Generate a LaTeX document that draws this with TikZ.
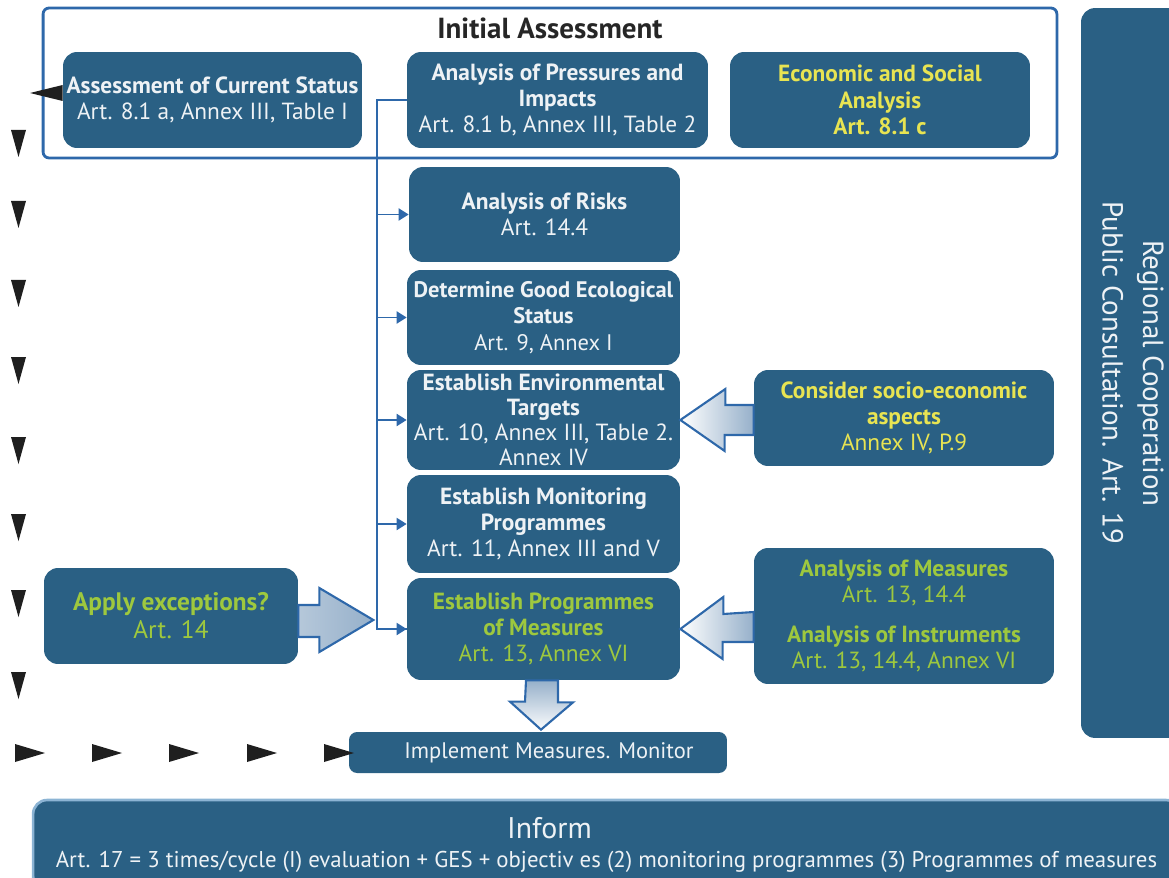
\documentclass[tikz,border=0pt]{standalone}
\usepackage{fontspec}
\setmainfont{PT Sans}
\usetikzlibrary{arrows.meta,calc,positioning}
\definecolor{boxblue}{RGB}{42,96,132}
\definecolor{lineblue}{RGB}{46,104,170}
\definecolor{txtyellow}{RGB}{232,228,82}
\definecolor{txtgreen}{RGB}{158,200,62}
\definecolor{arrowgray}{RGB}{150,176,202}
\definecolor{informedge}{RGB}{140,180,212}

\begin{document}
\begin{tikzpicture}[x=0.02cm, y=-0.02cm, >={Triangle[length=0.2cm,width=0.24cm]},
  box/.style={rounded corners=0.28cm, fill=boxblue, text=white!92!boxblue, align=center,
    inner sep=0pt, font=\fontsize{13.3}{15}\selectfont},
  boxsize/.style 2 args={minimum width=#1, minimum height=#2},
  link/.style={lineblue, line width=1.1pt},
  blockarrow/.style={draw=lineblue, line width=1.2pt, line join=miter},
  marker/.style={fill=black!88}]
    \useasboundingbox (0,0) rectangle (1169,878);

    % frame of the initial assessment
    \node[draw=lineblue, line width=1.6pt, rounded corners=0.12cm, boxsize={20.28cm}{3cm}] (initial) at (550,83) {};
    \node[font=\bfseries\fontsize{16.5}{18}\selectfont, text=black!85] (initialtitle) at (550,28) {Initial Assessment};

    % boxes
    \node[box, boxsize={5.98cm}{1.92cm}] (current) at (212.5,100) {\textbf{Assessment of Current Status}\\Art. 8.1 a, Annex III, Table I};
    \node[box, boxsize={6.02cm}{1.92cm}] (pressure) at (557.5,100) {\textbf{Analysis of Pressures and}\\\textbf{Impacts}\\Art. 8.1 b, Annex III, Table 2};
    \node[box, boxsize={6cm}{1.92cm}, text=txtyellow] (econ) at (880,100) {\textbf{Economic and Social}\\\textbf{Analysis}\\\textbf{Art. 8.1 c}};
    \node[box, boxsize={5.42cm}{1.9cm}] (risk) at (544.5,214.5) {\textbf{Analysis of Risks}\\Art. 14.4};
    \node[box, boxsize={5.46cm}{1.9cm}, font=\fontsize{12.8}{15}\selectfont] (ges) at (543.5,317.5) {\textbf{Determine Good Ecological}\\\textbf{Status}\\Art. 9, Annex I};
    \node[box, boxsize={5.46cm}{2cm}, font=\fontsize{13.3}{14.2}\selectfont] (target) at (543.5,420) {\textbf{Establish Environmental}\\\textbf{Targets}\\Art. 10, Annex III, Table 2.\\Annex IV};
    \node[box, boxsize={5.46cm}{1.96cm}] (monitor) at (543.5,524) {\textbf{Establish Monitoring}\\\textbf{Programmes}\\Art. 11, Annex III and V};
    \node[box, boxsize={5.46cm}{2.04cm}, text=txtgreen] (measures) at (543.5,629) {\textbf{Establish Programmes}\\\textbf{of Measures}\\Art. 13, Annex VI};
    \node[box, boxsize={7.56cm}{0.82cm}, rounded corners=0.16cm, font=\fontsize{12.8}{15}\selectfont] (implement) at (538,752.5) {\hspace*{0.44cm}Implement Measures. Monitor};
    \node[box, boxsize={6cm}{1.92cm}, text=txtyellow] (socio) at (904,418) {\textbf{Consider socio-economic}\\\textbf{aspects}\\Annex IV, P.9};
    \node[box, boxsize={6cm}{2.72cm}, text=txtgreen] (instrument) at (904,616) {\textbf{Analysis of Measures}\\Art. 13, 14.4\\[1.1ex]\textbf{Analysis of Instruments}\\Art. 13, 14.4, Annex VI};
    \node[box, boxsize={5.08cm}{1.92cm}, text=txtgreen, font=\fontsize{14.4}{16}\selectfont] (exception) at (171,616) {\textbf{Apply exceptions?}\\Art. 14};
    \node[box, rotate=-90, boxsize={14.6cm}{2.08cm}, font=\fontsize{16.5}{23}\selectfont] (region) at (1133,373) {Regional Cooperation\\Public Consultation. Art. 19};
    \node[box, draw=informedge, line width=1.5pt, boxsize={22.94cm}{1.8cm}, font=\fontsize{13}{16}\selectfont] (inform) at (606.5,845) {{\fontsize{17}{18}\selectfont Inform}\hspace*{2.28cm}\\Art. 17 = 3 times/cycle (I) evaluation + GES + objectiv es (2) monitoring programmes (3) Programmes of measures};

    % trunk from the pressures box
    \draw[link] (pressure.west) -- ++(-30,0) coordinate (trunk) |- (measures.west);
    \draw[link,->] (trunk |- risk.west) -- (risk.west);
    \draw[link,->] (trunk |- ges.west) -- (ges.west);
    \draw[link,->] (trunk |- target.west) -- (target.west);
    \draw[link,->] (trunk |- monitor.west) -- (monitor.west);
    \draw[link,->] (trunk |- measures.west) -- (measures.west);

    % wide arrows
    \draw[blockarrow, left color=white, right color=arrowgray] (target.east) -- ++(45,-31) -- ++(0,16) -- (socio.west |- 0,405) -- (socio.west |- 0,435) -- ++(-29,0) -- ++(0,16) -- cycle;
    \draw[blockarrow, left color=white, right color=arrowgray] (measures.east) -- ++(43,-32) -- ++(0,17) -- (instrument.west |- 0,612) -- (instrument.west |- 0,642) -- ++(-31,0) -- ++(0,17) -- cycle;
    \draw[blockarrow, left color=arrowgray!70!white, right color=arrowgray] ($(exception.east)+(75,4)$) coordinate (exctip) -- ++(-54,-32) -- ++(0,17) -- (exception.east |- 0,605) -- (exception.east |- 0,637) -- ++(21,0) -- ++(0,15) -- cycle;
    \draw[blockarrow, top color=arrowgray, bottom color=white] (implement.north) ++(3,-2) coordinate (downtip) -- ++(-31,-28) -- ++(15,0) -- (measures.south -| 526,0) -- (measures.south -| 558,0) -- ++(0,22) -- ++(15,0) -- cycle;

    % black markers on the left
    \foreach \y in {143,214,293,370,450,527,603,685}
        \fill[marker] (11,\y-13) -- (26,\y-13) -- (18.5,\y+14) -- cycle;
    \foreach \x in {15,92,169,247,324}
        \fill[marker] (\x,744) -- (\x+30,753) -- (\x,762) -- cycle;
    \fill[marker] (current.west |- 0,85) -- (30,93) -- (current.west |- 0,101) -- cycle;

\end{tikzpicture}
\end{document}
